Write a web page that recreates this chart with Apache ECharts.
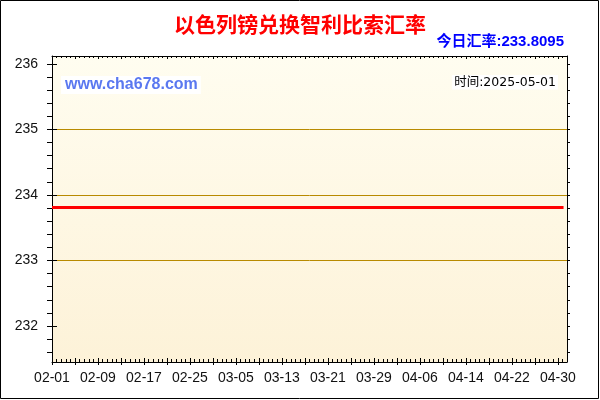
<!DOCTYPE html>
<html>
<head>
<meta charset="utf-8">
<script src="https://cdn.jsdelivr.net/npm/echarts@6/dist/echarts.min.js"></script>
<style>
html,body{margin:0;padding:0;background:#fff;}
#chart{width:600px;height:400px;}
</style>
</head>
<body>
<div id="chart"></div>
<script>
// ---- data ----
const year = 2025;
const dates = ['02-01','02-09','02-17','02-25','03-05','03-13','03-21','03-29','04-06','04-14','04-22','04-30','05-01'];
const rates = [233.8095,233.8095,233.8095,233.8095,233.8095,233.8095,233.8095,233.8095,233.8095,233.8095,233.8095,233.8095,233.8095];
const xLabelDates = ['02-01','02-09','02-17','02-25','03-05','03-13','03-21','03-29','04-06','04-14','04-22','04-30'];
const yLabels = [232, 233, 234, 235, 236];
const titleText = '以色列镑兑换智利比索汇率';
const currentText = '今日汇率:233.8095';
const timeText = '时间:2025-05-01';
const siteText = 'www.cha678.com';

// ---- helpers ----
const DAY = 86400000;
const t0 = Date.UTC(year, 1, 1);
function dayIndex(md) {
  const p = md.split('-');
  return (Date.UTC(year, +p[0] - 1, +p[1]) - t0) / DAY;
}
const labelByDay = {};
xLabelDates.forEach(d => { labelByDay[dayIndex(d)] = d; });
const xLabelPos = xLabelDates.map(dayIndex);

const XMIN = 0, XMAX = 89.6;
const YMIN = 231.45, YMAX = 236.12;

const xMajor = [];
for (let d = 0; d <= 88; d += 4) xMajor.push(d);
const xMinor = [];
for (let i = 0; i * 0.8 < XMAX - 0.1; i++) xMinor.push(+(i * 0.8).toFixed(2));
const yMinor = [];
for (let i = 0; 231.6 + i * 0.2 <= YMAX; i++) yMinor.push(+(231.6 + i * 0.2).toFixed(2));

const seriesData = dates.map((d, i) => [dayIndex(d), rates[i]]);

const LAT = 'Liberation Sans, Arial, Noto Sans CJK SC, sans-serif';
const CJK = 'Noto Sans CJK SC, Liberation Sans, sans-serif';
const black = '#000';

const chart = echarts.init(document.getElementById('chart'), null, {renderer: 'canvas'});

function hiddenX(extra) {
  return Object.assign({
    type: 'value', min: XMIN, max: XMAX, gridIndex: 0, z: 3,
    axisLine: {show: false}, axisLabel: {show: false}, splitLine: {show: false},
    axisTick: {show: false}
  }, extra);
}
function hiddenY(extra) {
  return Object.assign({
    type: 'value', min: YMIN, max: YMAX, gridIndex: 0, z: 3,
    axisLine: {show: false}, axisLabel: {show: false}, splitLine: {show: false},
    axisTick: {show: false}
  }, extra);
}

chart.setOption({
  animation: false,
  backgroundColor: '#fff',
  title: [
    {text: titleText, left: 'center', top: 9,
     textStyle: {fontFamily: CJK, fontSize: 21, fontWeight: 'bold', color: '#ff0000'}},
    {text: currentText, right: 36, top: 34, padding: 0,
     textStyle: {fontFamily: LAT, fontSize: 15, fontWeight: 'bold', color: '#0000ff'}},
    {text: siteText, left: 61, top: 76, padding: [1, 3, 1, 4], backgroundColor: '#fff',
     textStyle: {fontFamily: LAT, fontSize: 16, fontWeight: 'bold', color: '#5a78f0'}},
    {text: timeText, right: 42, top: 75, padding: [1, 2, 1, 2], backgroundColor: '#fff',
     textStyle: {fontFamily: 'DejaVu Sans, Noto Sans CJK SC, sans-serif', fontSize: 12.5, fontWeight: 'normal', color: '#000'}}
  ],
  grid: {
    left: 52, right: 33, top: 56, bottom: 38, show: true, borderWidth: 0, z: -1,
    backgroundColor: {type: 'linear', x: 0, y: 0, x2: 0, y2: 1,
      colorStops: [{offset: 0, color: '#fffdf0'}, {offset: 1, color: '#fdf2d8'}]}
  },
  xAxis: [
    { // bottom main axis
      type: 'value', min: XMIN, max: XMAX, position: 'bottom', z: 3,
      axisLine: {show: true, onZero: false, lineStyle: {color: black, width: 1}},
      axisTick: {show: true, inside: true, length: 3, customValues: xMinor, lineStyle: {color: black, width: 1}},
      axisLabel: {show: true, customValues: xLabelPos, margin: 9,
        formatter: v => labelByDay[Math.round(v)] || '',
        fontFamily: LAT, fontSize: 14, color: '#111'},
      splitLine: {show: false}
    },
    hiddenX({position: 'bottom', axisLine: {show: false, onZero: false},
      axisTick: {show: true, inside: false, length: 3, customValues: xMajor, lineStyle: {color: black, width: 1}}}),
    hiddenX({position: 'bottom', axisLine: {show: false, onZero: false},
      axisTick: {show: true, inside: true, length: 4, customValues: xMajor, lineStyle: {color: black, width: 1}}}),
    hiddenX({position: 'top', axisLine: {show: true, onZero: false, lineStyle: {color: black}},
      axisTick: {show: true, inside: true, length: 2, customValues: xMinor, lineStyle: {color: black, width: 1}}}),
    hiddenX({position: 'top', axisLine: {show: false, onZero: false},
      axisTick: {show: true, inside: true, length: 3, customValues: xMajor, lineStyle: {color: black, width: 1}}})
  ],
  yAxis: [
    { // left main axis
      type: 'value', min: YMIN, max: YMAX, position: 'left', z: 3,
      axisLine: {show: true, onZero: false, lineStyle: {color: black, width: 1}},
      axisTick: {show: true, inside: false, length: 5, customValues: yMinor, lineStyle: {color: black}},
      axisLabel: {show: true, customValues: yLabels, margin: 14,
        fontFamily: LAT, fontSize: 14, color: '#111'},
      splitLine: {show: false}
    },
    hiddenY({position: 'left', z: 2, axisLine: {show: false, onZero: false},
      axisTick: {show: true, inside: true, length: 5, customValues: yLabels, lineStyle: {color: black}},
      splitLine: {show: true, showMinLine: false, showMaxLine: false,
        lineStyle: {color: '#b88a00', width: 1}}}),
    hiddenY({position: 'right', axisLine: {show: true, onZero: false, lineStyle: {color: black}},
      axisTick: {show: true, inside: false, length: 3, customValues: yMinor, lineStyle: {color: black}}})
  ],
  series: [{
    type: 'line', xAxisIndex: 0, yAxisIndex: 0,
    data: seriesData, symbol: 'none', showSymbol: false,
    lineStyle: {color: '#ff0000', width: 3}, z: 5
  }],
  graphic: [{
    type: 'rect', silent: true, z: 100,
    shape: {x: 0.5, y: 0.5, width: 598, height: 398},
    style: {fill: 'none', stroke: '#000', lineWidth: 1}
  }]
});
</script>
</body>
</html>
